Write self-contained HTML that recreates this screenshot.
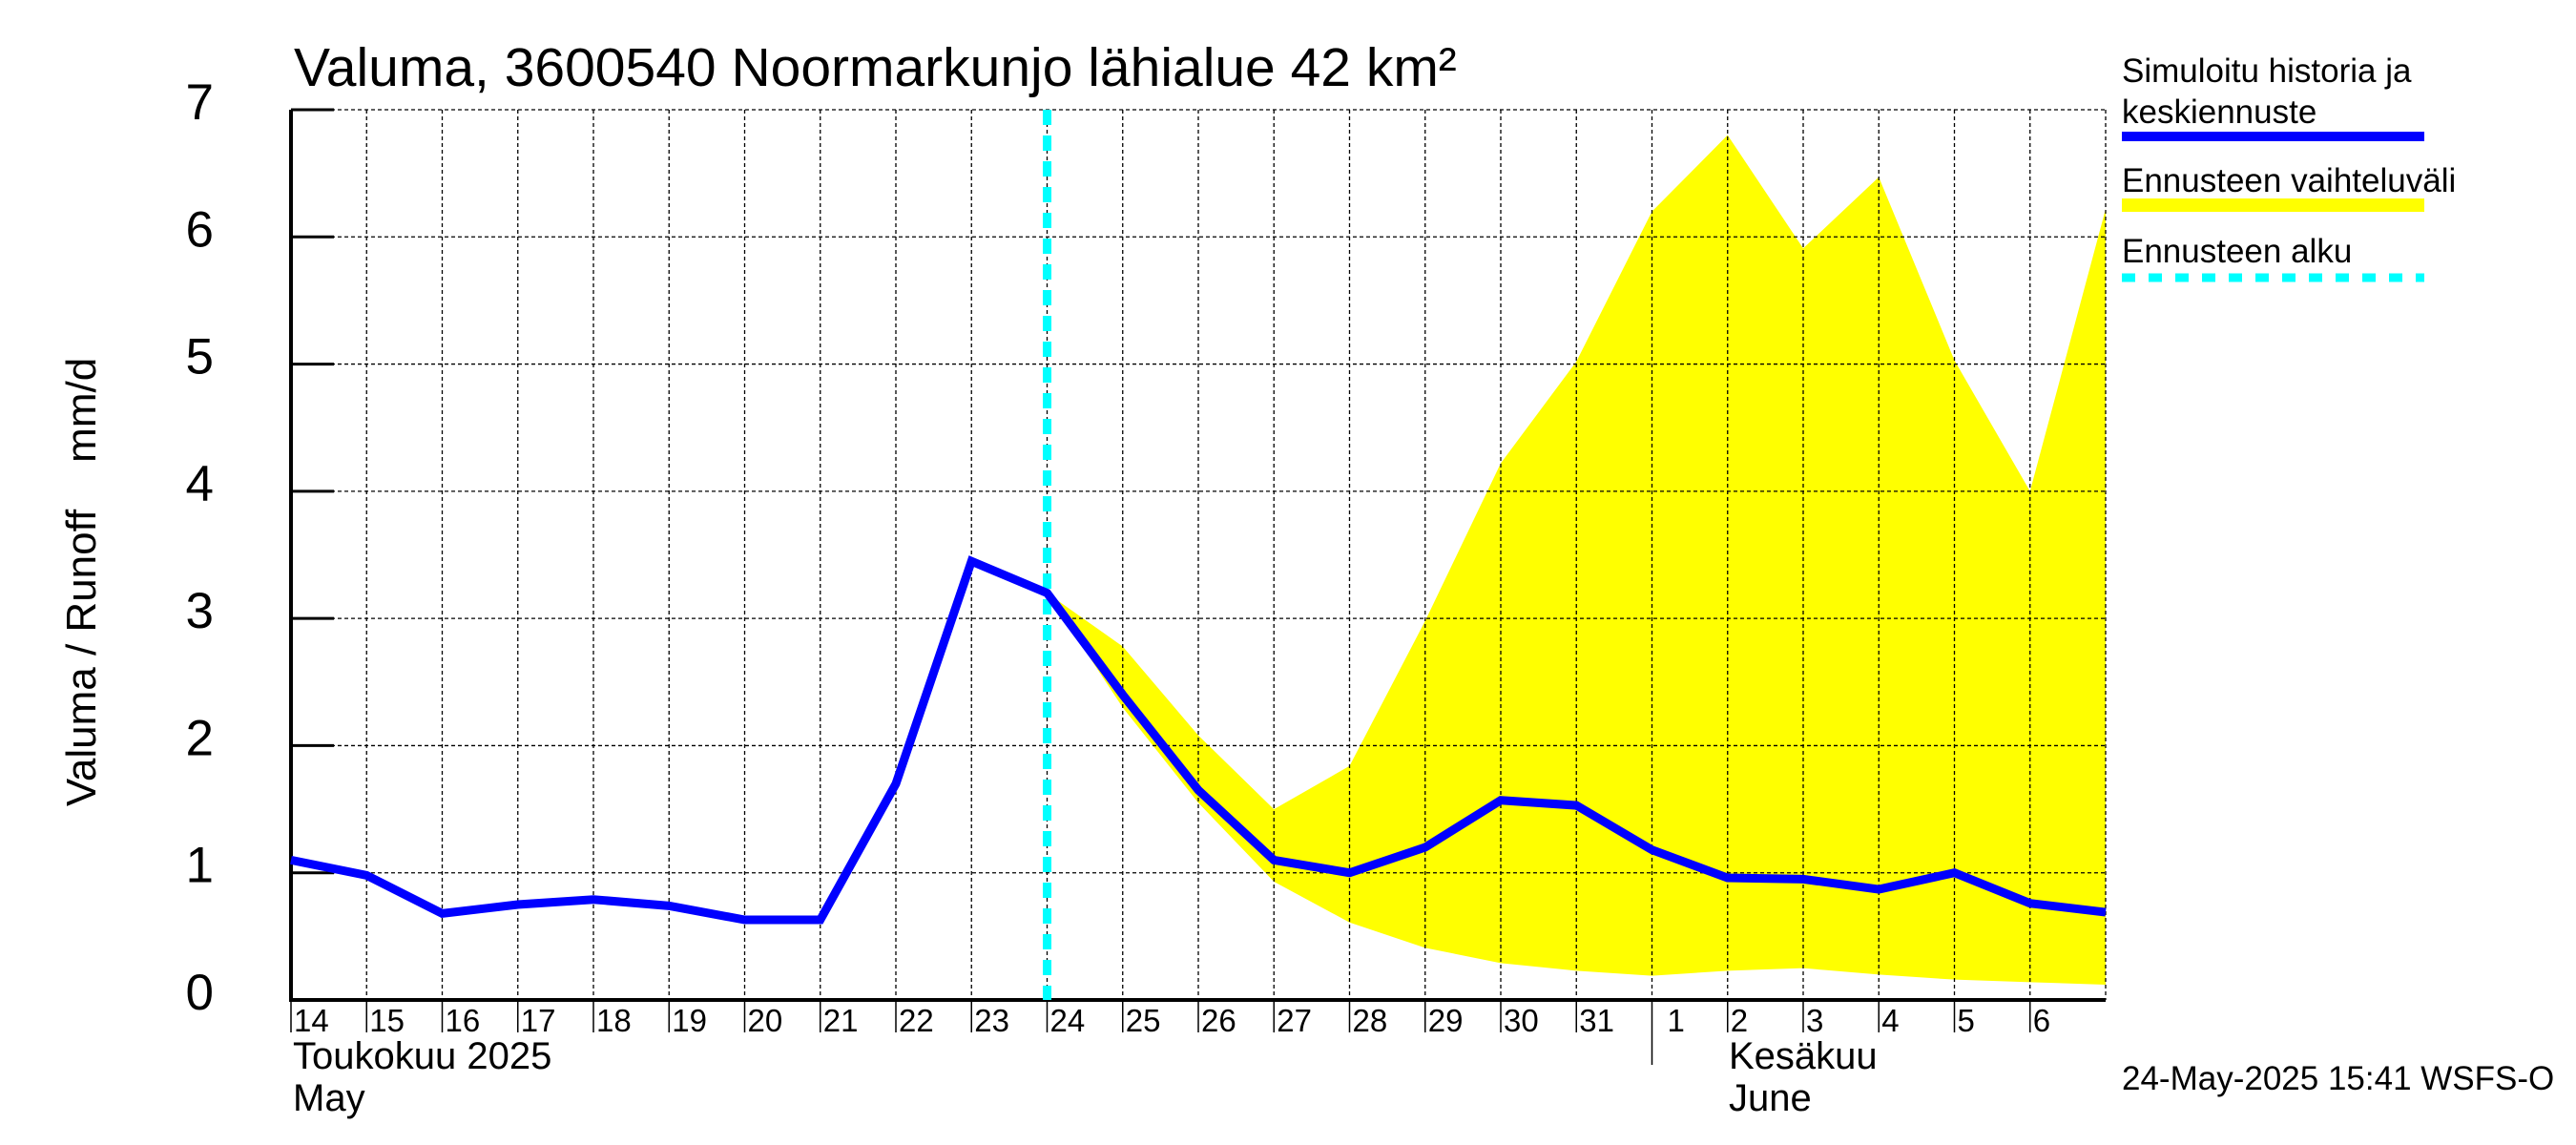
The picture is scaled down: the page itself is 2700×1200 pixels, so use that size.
<!DOCTYPE html>
<html><head><meta charset="utf-8"><style>html,body{margin:0;padding:0;background:#fff;overflow:hidden}svg{display:block}text{font-family:"Liberation Sans",sans-serif}</style></head>
<body>
<svg id="chart" width="2700" height="1200" viewBox="0 0 2700 1200" xmlns="http://www.w3.org/2000/svg">
<g id="band"></g>
<g id="grid"></g>
<g id="axes"></g>
<g id="series"></g>
<text x="308" y="90" font-size="57">Valuma, 3600540 Noormarkunjo lähialue 42 km²</text>
<text transform="translate(100,610) rotate(-90)" text-anchor="middle" font-size="44">Valuma / Runoff &#160;&#160;&#160;mm/d</text>
<g>
<text x="2224" y="86" font-size="35">Simuloitu historia ja</text>
<text x="2224" y="129" font-size="35">keskiennuste</text>
<line x1="2224" y1="143" x2="2541" y2="143" stroke="#0000ff" stroke-width="10"/>
<text x="2224" y="201" font-size="35">Ennusteen vaihteluväli</text>
<line x1="2224" y1="215" x2="2541" y2="215" stroke="#ffff00" stroke-width="14"/>
<text x="2224" y="275" font-size="35">Ennusteen alku</text>
<line x1="2224" y1="291" x2="2541" y2="291" stroke="#00ffff" stroke-width="9" stroke-dasharray="14,14"/>
</g>
<text x="307" y="1120" font-size="40">Toukokuu  2025</text>
<text x="307" y="1164" font-size="40">May</text>
<text x="1812" y="1120" font-size="40">Kesäkuu</text>
<text x="1812" y="1164" font-size="40">June</text>
<text x="2224" y="1142" font-size="35">24-May-2025 15:41 WSFS-O</text>
</svg>
<script>
const dayLabels = ["14","15","16","17","18","19","20","21","22","23","24","25","26","27","28","29","30","31","1","2","3","4","5","6"];
const yTicks = [0,1,2,3,4,5,6,7];
const meanValues = [1.1,0.98,0.68,0.75,0.79,0.74,0.63,0.63,1.7,3.45,3.2,2.4,1.65,1.1,1.0,1.2,1.57,1.53,1.18,0.96,0.95,0.87,1.0,0.76,0.69];
const bandStart = 10;
const upperValues = [3.2,2.78,2.08,1.5,1.84,2.98,4.22,5.02,6.2,6.8,5.91,6.47,5.03,4.0,6.22];
const lowerValues = [3.2,2.3,1.55,0.93,0.61,0.41,0.29,0.23,0.19,0.23,0.25,0.2,0.16,0.14,0.12];
const forecastStart = 10;
const monthBreak = 18;

const L=305,R=2207,T=115,B=1048,N=24;
const xs=i=>L+(R-L)*i/N;
const ys=v=>B-(B-T)*v/7;
const NS='http://www.w3.org/2000/svg';
function mk(tag,attrs,parent){const e=document.createElementNS(NS,tag);for(const k in attrs)e.setAttribute(k,attrs[k]);parent.appendChild(e);return e;}
const band=document.getElementById('band'),grid=document.getElementById('grid'),axes=document.getElementById('axes'),series=document.getElementById('series');

let pts=[];
upperValues.forEach((v,i)=>pts.push(xs(bandStart+i)+','+ys(v)));
for(let i=lowerValues.length-1;i>=0;i--)pts.push(xs(bandStart+i)+','+ys(lowerValues[i]));
const poly=mk('polygon',{points:pts.join(' '),fill:'#ffff00'},band);



for(let i=1;i<=N;i++){
 const g=mk('line',{x1:xs(i),y1:T,x2:xs(i),y2:B,stroke:'#000','stroke-width':1.3,'stroke-dasharray':'4,3'},grid);
 
 
}
yTicks.forEach(v=>{
 if(v>0){const g=mk('line',{x1:L,y1:ys(v),x2:R,y2:ys(v),stroke:'#000','stroke-width':1.3,'stroke-dasharray':'4,3'},grid);
 
 }
 const t=mk('line',{x1:L,y1:ys(v),x2:L+45,y2:ys(v),stroke:'#000','stroke-width':3},axes);
 
 
 const lb=mk('text',{x:224,y:ys(v)+10,'text-anchor':'end','font-size':53},axes);
 lb.textContent=v;
 
 
});
const ax=mk('polyline',{points:`${L},${T} ${L},${B} ${R},${B}`,fill:'none',stroke:'#000','stroke-width':4},axes);


dayLabels.forEach((d,i)=>{
 const t=mk('line',{x1:xs(i),y1:B,x2:xs(i),y2:i===monthBreak?1116:1082,stroke:'#000','stroke-width':1.5},axes);
 
 
 const lb=mk('text',{x:xs(i)+(i===monthBreak?16:3),y:1081,'font-size':33},axes);
 lb.textContent=d;
 
 
});
const cy=mk('line',{x1:xs(forecastStart),y1:T,x2:xs(forecastStart),y2:B,stroke:'#00ffff','stroke-width':9,'stroke-dasharray':'16,11'},series);


const ml=mk('polyline',{points:meanValues.map((v,i)=>xs(i)+','+ys(v)).join(' '),fill:'none',stroke:'#0000ff','stroke-width':9,'stroke-linejoin':'miter'},series);


</script>
</body></html>
